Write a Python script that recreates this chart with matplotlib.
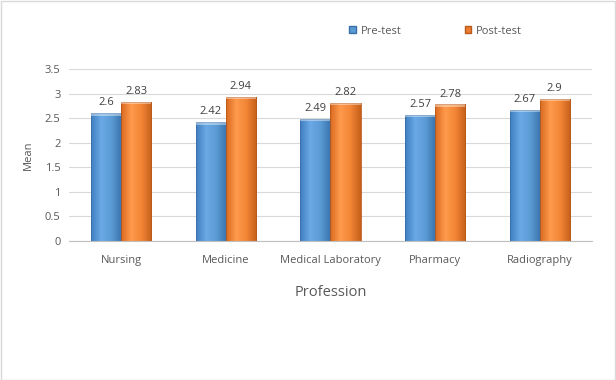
import matplotlib
matplotlib.use("Agg")
import matplotlib.pyplot as plt
import numpy as np
from matplotlib.colors import LinearSegmentedColormap
from matplotlib.patches import Patch

professions = ["Nursing", "Medicine", "Medical Laboratory", "Pharmacy", "Radiography"]
pre_test = [2.6, 2.42, 2.49, 2.57, 2.67]
post_test = [2.83, 2.94, 2.82, 2.78, 2.9]
yticks = [0, 0.5, 1, 1.5, 2, 2.5, 3, 3.5]
ytick_labels = ["0", "0.5", "1", "1.5", "2", "2.5", "3", "3.5"]

plt.rcParams['font.family'] = ['Open Sans', 'DejaVu Sans']
txt = '#595959'

fig = plt.figure(figsize=(6.16, 3.8), dpi=100)
ax = fig.add_axes([0.112, 0.366, 0.849, 0.452])

blue_cm = LinearSegmentedColormap.from_list('b', ['#3f7fc0', '#6aa8e6', '#5b9bd5', '#3a73ad'])
orange_cm = LinearSegmentedColormap.from_list('o', ['#d96a20', '#ff9a4d', '#f28535', '#c75f1a'])

x = np.arange(len(professions))
w = 0.287
grad = np.linspace(0, 1, 64).reshape(1, -1)

def shaded_bars(xs, vals, cmap, edge):
    bars = ax.bar(xs, vals, w, color='none', edgecolor=edge, linewidth=0.6, zorder=3)
    for b in bars:
        bx, by, bw, bh = b.get_x(), b.get_y(), b.get_width(), b.get_height()
        im = ax.imshow(grad, cmap=cmap, aspect='auto', extent=[bx, bx + bw, by, by + bh], zorder=2)
        im.set_clip_path(b)
        # light bevel on top
        ax.fill_between([bx, bx + bw], by + bh - 0.05, by + bh, color='white', alpha=0.4, lw=0, zorder=3)
        ax.text(bx + bw / 2, by + bh + 0.1, f"{bh:g}", ha='center', va='bottom', fontsize=8, color='#404040', zorder=4)
    return bars

shaded_bars(x - w / 2, pre_test, blue_cm, '#3a6fa5')
shaded_bars(x + w / 2, post_test, orange_cm, '#b85a1a')

ax.set_xlim(-0.5, len(professions) - 0.5)
ax.set_ylim(0, 3.5)
ax.set_yticks(yticks)
ax.set_yticklabels(ytick_labels, fontsize=8, color=txt)
ax.set_xticks(x)
ax.set_xticklabels(professions, fontsize=8, color=txt)
ax.tick_params(length=0, pad=10)
ax.tick_params(axis='y', pad=6)
ax.yaxis.grid(True, color='#d9d9d9', linewidth=0.8, zorder=0)
ax.set_axisbelow(True)
for s in ['top', 'right', 'left']:
    ax.spines[s].set_visible(False)
ax.spines['bottom'].set_color('#bfbfbf')
ax.set_ylabel("Mean", fontsize=8, color=txt, labelpad=8)
ax.set_xlabel("Profession", fontsize=10.5, color=txt, labelpad=14)

handles = [Patch(facecolor='#5b9bd5', edgecolor='#3a6fa5', label='Pre-test'),
           Patch(facecolor='#ed7d31', edgecolor='#b85a1a', label='Post-test')]
fig.legend(handles=handles, loc='center', bbox_to_anchor=(0.707, 0.918), ncol=2, frameon=False,
           fontsize=8, handlelength=0.6, handleheight=0.6, columnspacing=5.7, handletextpad=0.4,
           labelcolor=txt)

fig.patches.append(plt.Rectangle((0.001, 0.001), 0.997, 0.997, transform=fig.transFigure,
                                 fill=False, edgecolor='#d9d9d9', linewidth=1))

fig.savefig("out.png", dpi=100)
